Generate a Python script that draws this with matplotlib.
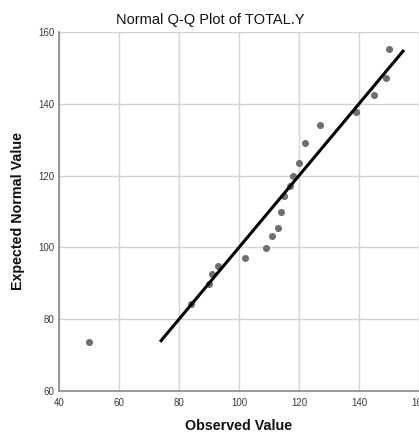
import matplotlib
matplotlib.use("Agg")
import matplotlib.pyplot as plt

plt.rcParams['font.family'] = ['Liberation Sans', 'DejaVu Sans']

observed = [150, 149, 145, 139, 127, 122, 120, 118, 117, 115, 114, 113, 111, 109, 102, 93, 91, 90, 84, 50]
expected = [155.3, 147.2, 142.5, 137.7, 134.0, 129.1, 123.4, 119.9, 117.2, 114.4, 109.8, 105.5, 103.2, 99.8, 97.0, 94.9, 92.6, 89.7, 84.3, 73.6]
line_range = [73.7, 155.0]
x_ticks = [40, 60, 80, 100, 120, 140, 160]
y_ticks = [60, 80, 100, 120, 140, 160]

W, H = 419, 433
fig = plt.figure(figsize=(W / 100, H / 100), dpi=100)
ax = fig.add_axes([59 / W, (H - 391) / H, 360 / W, 359 / H])

ax.set_xlim(40, 160)
ax.set_ylim(60, 160)
ax.set_xticks(x_ticks)
ax.set_yticks(y_ticks)
ax.grid(True, color='#d4d4d4', linewidth=1.0)
ax.set_axisbelow(True)

ax.scatter(observed, expected, s=26, color='#6f6f6f', zorder=3, linewidths=0)
ax.plot(line_range, line_range, color='black', linewidth=2.2, zorder=4, solid_capstyle='butt')

for s in ['top', 'right']:
    ax.spines[s].set_visible(False)
for s in ['left', 'bottom']:
    ax.spines[s].set_color('#8a8a8a')
    ax.spines[s].set_linewidth(1.2)

ax.tick_params(axis='both', length=0, labelsize=7, labelcolor='#3a3a3a')
ax.tick_params(axis='x', pad=5)
ax.tick_params(axis='y', pad=3)

fig.text(210 / W, 1 - 20 / H, 'Normal Q-Q Plot of TOTAL.Y', ha='center', va='center', fontsize=10.5, color='#111111')
fig.text(239 / W, 1 - 426 / H, 'Observed Value', ha='center', va='center', fontsize=10.3, fontweight='bold', color='#111111')
fig.text(18 / W, 1 - 211 / H, 'Expected Normal Value', ha='center', va='center', rotation=90, fontsize=10.3, fontweight='bold', color='#111111')

fig.savefig('out.png', dpi=100)
